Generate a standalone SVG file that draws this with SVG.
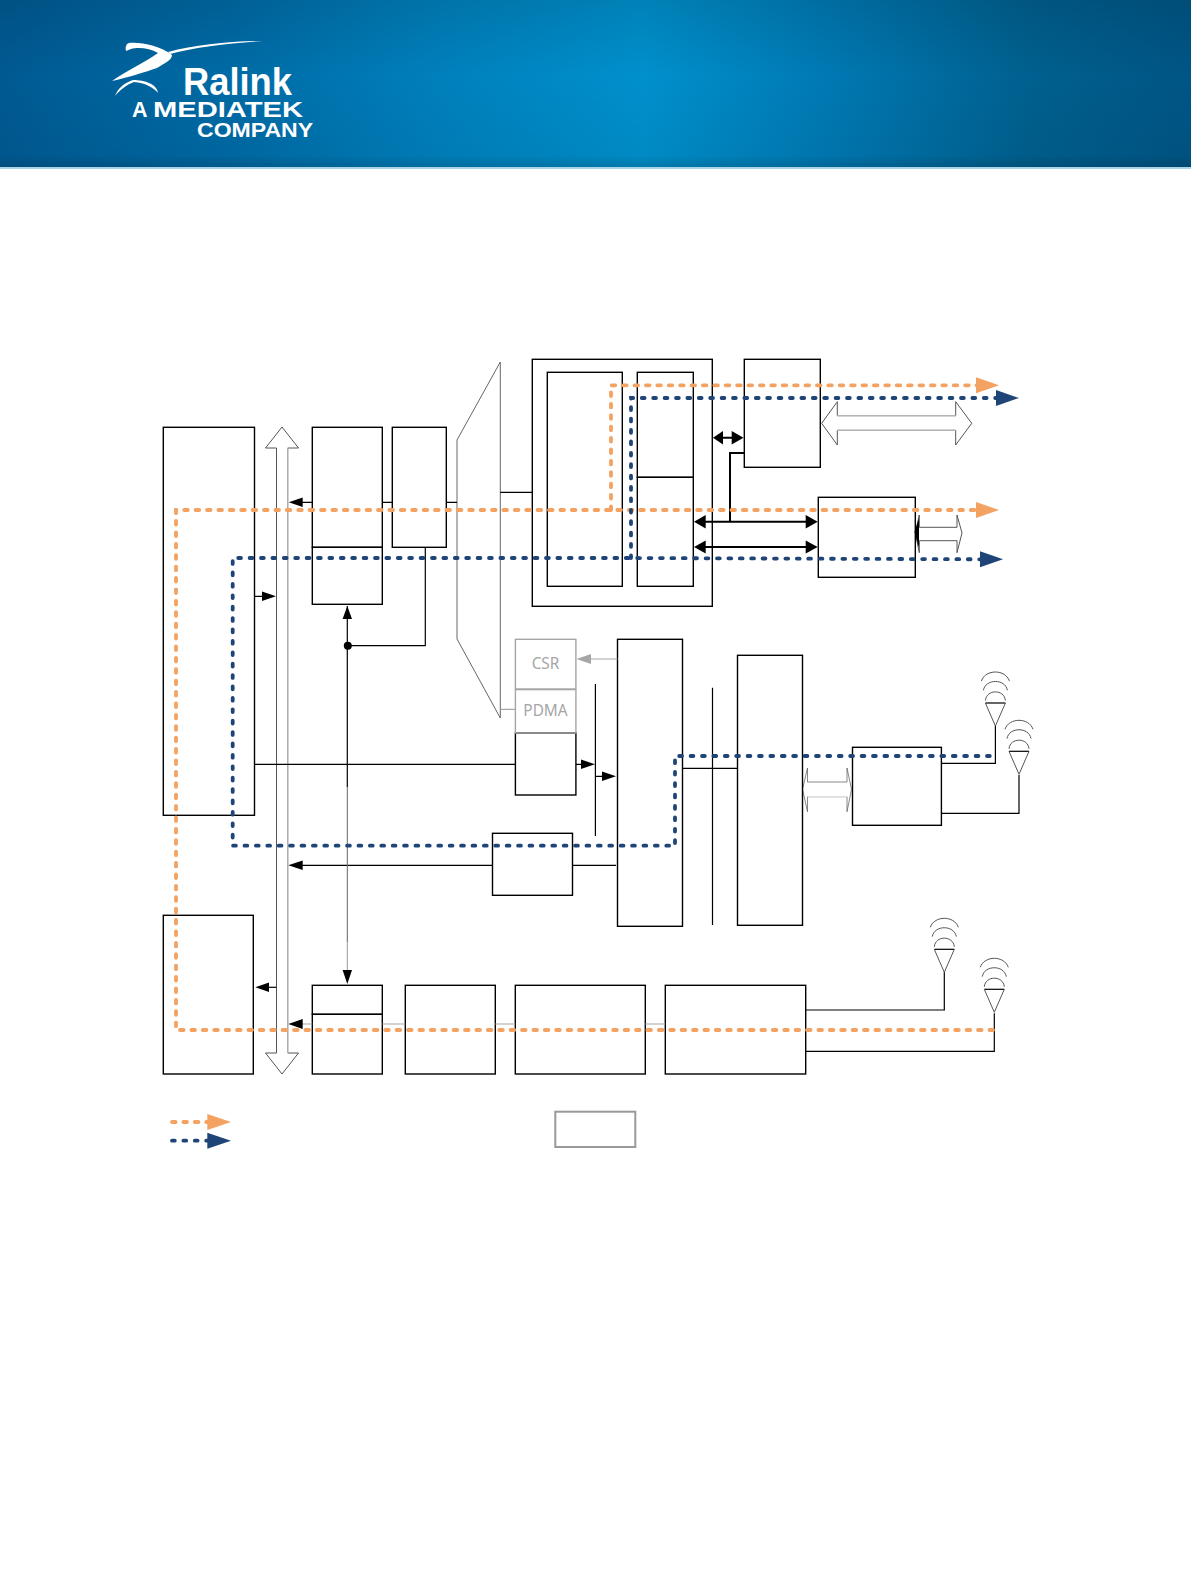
<svg xmlns="http://www.w3.org/2000/svg" width="1191" height="1584" viewBox="0 0 1191 1584">
<style>
.b{fill:#fff;stroke:#000;stroke-width:1.4}
.g{fill:none;stroke:#a6a6a6;stroke-width:1.4}
.l{fill:none;stroke:#000;stroke-width:1.2}
.lg{fill:none;stroke:#a6a6a6;stroke-width:1.2}
.t{fill:none;stroke:#000;stroke-width:2}
.h{fill:#fff;stroke:#555;stroke-width:1}
.hl{fill:none;stroke:#b5b5b5;stroke-width:1.2}
.a{fill:none;stroke:#555;stroke-width:1}
.k{fill:#000}
.og{fill:none;stroke:#f4a261;stroke-width:3.8;stroke-dasharray:3.6 7.8;stroke-linecap:round}
.bl{fill:none;stroke:#1f4478;stroke-width:3.8;stroke-dasharray:2.8 8.6;stroke-linecap:round}
.oh{fill:#f4a261}
.bh{fill:#1f4478}
.logo{fill:#fff;font-family:"Liberation Sans",Arial,sans-serif;font-weight:700}
.csr{fill:#a6a6a6;font-family:"Noto Sans",sans-serif;font-size:15.4px;text-anchor:middle}
</style>
<defs>
<linearGradient id="hx" x1="0" x2="1" y1="0" y2="0">
<stop offset="0" stop-color="#005a92"/><stop offset=".2" stop-color="#006ba6"/><stop offset=".36" stop-color="#007fbb"/><stop offset=".54" stop-color="#0090cc"/><stop offset=".7" stop-color="#0078b2"/><stop offset=".86" stop-color="#00608f"/><stop offset="1" stop-color="#005585"/>
</linearGradient>
<linearGradient id="hy" x1="0" x2="0" y1="0" y2="1">
<stop offset="0" stop-color="#000" stop-opacity=".1"/><stop offset=".45" stop-color="#000" stop-opacity="0"/><stop offset=".93" stop-color="#000" stop-opacity=".04"/><stop offset="1" stop-color="#000" stop-opacity=".16"/>
</linearGradient>
<g id="ant">
<path class="a" d="M-10 -2.5C-9 -14 9 -14 10 -2.5M-12 -12.7C-10 -24.5 10 -24.5 12 -12.7M-14 -22C-10 -34 10 -34 14 -22"/>
<path d="M-10 0H10" stroke="#000" stroke-width="1.2"/>
<path class="a" d="M-10 0L0 23L10 0"/>
</g>
</defs>
<g id="header">
<rect x="0" y="0" width="1191" height="167" fill="url(#hx)"/>
<rect x="0" y="0" width="1191" height="167" fill="url(#hy)"/>
<rect x="0" y="167" width="1191" height="2" fill="#a9d3e8"/>
<path d="M112 81C125 72 145 62 158 53C150 48 138 47 131 49L126 51C125 47 126 44 129 43C142 42 160 46 172 55C172 60 165 63 157 68C145 72 130 77 112 81Z" fill="#fff"/>
<path d="M168 52C195 45 230 41 263 41C230 43 195 47 170 54Z" fill="#fff"/>
<path d="M115 96C118 88 124 83 133 80C145 80 157 84 158 93C153 87 145 83 134 82C126 85 120 90 115 96Z" fill="#fff"/>
<text class="logo" x="183" y="95" font-size="38" textLength="109" lengthAdjust="spacingAndGlyphs">Ralink</text>
<text class="logo" x="132" y="117" font-size="21.5">A</text>
<text class="logo" x="153" y="117" font-size="21.5" textLength="150" lengthAdjust="spacingAndGlyphs">MEDIATEK</text>
<text class="logo" x="197" y="137" font-size="21" textLength="116" lengthAdjust="spacingAndGlyphs">COMPANY</text>
</g>
<g id="bus-arrow"><polygon class="h" points="282,427 298.5,448 287.7,448 287.7,1053 298.5,1053 282,1074 265.5,1053 276.5,1053 276.5,448 265.5,448"/><path class="hl" d="M287.7 448V1053"/></g>
<g id="hollow-arrow-top"><polygon class="h" points="821.7,423.3 837.3,401.7 837.3,415.7 955.7,415.7 955.7,401.7 971.7,423.3 955.7,445 955.7,430.3 837.3,430.3 837.3,445"/><path class="hl" d="M837.3 415.7H955.7M837.3 430.3H955.7"/></g>
<g id="hollow-arrow-small"><polygon class="h" points="915.3,533 919.3,515 919.3,527.3 957,527.3 957,515 962,533 957,552.7 957,540.7 919.3,540.7 919.3,552.7"/></g>
<g id="hollow-arrow-mid"><polygon class="h" stroke-opacity=".7" points="802.5,789.3 807.5,768 807.5,782 847,782 847,768 851.5,789.3 847,811.7 847,796.7 807.5,796.7 807.5,811.7"/><path d="M807.5 796.7H847" stroke="#ddd" stroke-width="1.2"/></g>
<g id="mux"><polygon fill="#fff" stroke="#666" stroke-width="1" points="500.3,362 457,440 457,639 500.3,718"/><path class="hl" d="M457 440V639"/></g>
<g id="node-left"><rect class="b" x="163.3" y="427.3" width="91.2" height="388"/></g>
<g id="node-left-bottom"><rect class="b" x="163.3" y="915.3" width="90" height="158.7"/></g>
<g id="node-a"><rect class="b" x="312.3" y="427.3" width="70" height="120"/><rect class="b" x="312.3" y="547.3" width="70" height="57"/></g>
<g id="node-b"><rect class="b" x="392.3" y="427.3" width="54" height="120"/></g>
<g id="node-outer"><rect class="b" x="532.3" y="359.3" width="180" height="247"/><rect class="b" x="547.3" y="372.3" width="75" height="214"/><rect class="b" x="637.3" y="372.3" width="56" height="105"/><rect class="b" x="637.3" y="477.3" width="56" height="109"/></g>
<g id="node-top-right"><rect class="b" x="744.3" y="359.3" width="76" height="108"/></g>
<g id="node-mid-right"><rect class="b" x="818.3" y="497.3" width="97" height="80"/></g>
<g id="node-c"><rect class="b" x="515.4" y="733" width="60.5" height="62"/></g>
<g id="node-csr"><rect class="g" x="515.4" y="639.3" width="60.5" height="49.7"/><text class="csr" x="545.5" y="669">CSR</text></g>
<g id="node-pdma"><rect class="g" x="515.4" y="689.6" width="60.5" height="43.4"/><text class="csr" x="545.5" y="716">PDMA</text></g>
<g id="node-d"><rect class="b" x="492.5" y="833.3" width="80" height="62"/></g>
<g id="node-e"><rect class="b" x="617.5" y="639.3" width="65" height="287"/></g>
<g id="node-f"><rect class="b" x="737.5" y="655.3" width="65" height="270"/></g>
<g id="node-g"><rect class="b" x="852.5" y="747.3" width="88.9" height="78"/></g>
<g id="node-h"><rect class="b" x="312.3" y="985.3" width="70" height="29"/><rect class="b" x="312.3" y="1014.3" width="70" height="59.7"/></g>
<g id="node-i"><rect class="b" x="405.3" y="985.3" width="90" height="88.7"/></g>
<g id="node-j"><rect class="b" x="515.3" y="985.3" width="130" height="88.7"/></g>
<g id="node-k"><rect class="b" x="665.3" y="985.3" width="140.4" height="88.7"/></g>
<g id="legend-box"><rect x="555.3" y="1111.7" width="80" height="35.3" fill="#fff" stroke="#999" stroke-width="2"/></g>
<g id="antenna-1"><use href="#ant" x="995.4" y="703"/></g>
<g id="antenna-2"><use href="#ant" x="1019" y="751.3"/></g>
<g id="antenna-3"><use href="#ant" x="944.3" y="949.3"/></g>
<g id="antenna-4"><use href="#ant" x="994.3" y="989.3"/></g>
<g id="connectors">
<path class="l" d="M382.3 502.3H392.3M446.3 502.3H457M500.3 492.3H532.3M312.3 502.3H300M254.5 596.3H264M347.3 787V606M347.3 645.7H425.3V547.3"/>
<path class="l" d="M254.5 764.3H515.4M576 764.3H583M595.4 684V836M595.4 776.3H604M572.5 865.3H616M492.5 865.3H300M682.5 768.3H737.5M712.5 687.7V925"/>
<path d="M347.3 787V942" fill="none" stroke="#666" stroke-width="1"/>
<path d="M347.3 942V972" fill="none" stroke="#999" stroke-width="1"/>
<path class="lg" d="M500.3 709.3H515.4M617.5 659H589M312.3 1024H300M382.3 1024H405.3M495.3 1024H515.3M645.3 1024H665.3"/>
<path class="l" d="M276.5 987.3H267"/>
<path class="t" d="M720 437.7H735M744.3 453H730V521.7M700 521.7H812M700 547H812"/>
<path class="l" d="M941.4 763.3H995.4V726M941.4 813.3H1019V775M805.7 1010H944.3V972.3M805.7 1051.3H994.3V1013.3"/>
<g class="k">
<polygon points="288.7,502.3 302.7,497.5 302.7,507"/>
<polygon points="276,596.3 262,591.5 262,601"/>
<polygon points="347.3,606 342.6,619 352,619"/>
<circle cx="347.8" cy="645.7" r="4"/>
<polygon points="347.3,984 342.6,970 352,970"/>
<polygon points="595,764.3 581,759.5 581,769"/>
<polygon points="616,776.3 602,771.5 602,781"/>
<polygon points="288.3,865.3 302.7,860.5 302.7,870"/>
<polygon points="255.3,987.3 269,982.5 269,992"/>
<polygon points="288.3,1024 302.7,1019 302.7,1029"/>
<polygon points="713,437.7 723,431 723,444.5"/>
<polygon points="743.5,437.7 731.7,431 731.7,444.5"/>
<polygon points="694,521.7 705.7,515 705.7,528.5"/>
<polygon points="817.7,521.7 805.7,515 805.7,528.5"/>
<polygon points="694,547 705.7,540.5 705.7,553.5"/>
<polygon points="817.7,547 805.7,540.5 805.7,553.5"/>
<polygon points="919,518 919,548 914.5,532"/>
</g>
<polygon points="576.4,659 591,654 591,664" fill="#a6a6a6"/>
</g>
<g id="paths">
<path class="og" d="M611 510V385.3H978"/>
<path class="og" d="M993 1030H176V510H978"/>
<path class="bl" d="M998 398H631V558"/>
<path class="bl" d="M982 559.3L631 558H232.7V845.7H675V756H996"/>
<path class="og" d="M172 1122H209"/>
<path class="bl" d="M172 1140.7H209"/>
<polygon class="oh" points="999,385.3 976,377.3 976,393.3"/>
<polygon class="oh" points="999,510 976,502 976,518"/>
<polygon class="bh" points="1019,398 996,390 996,406"/>
<polygon class="bh" points="1003,559.3 980,551.3 980,567.3"/>
<polygon class="oh" points="231,1122 207.3,1114 207.3,1130"/>
<polygon class="bh" points="231,1140.7 207.3,1132.7 207.3,1148.7"/>
</g>
</svg>
